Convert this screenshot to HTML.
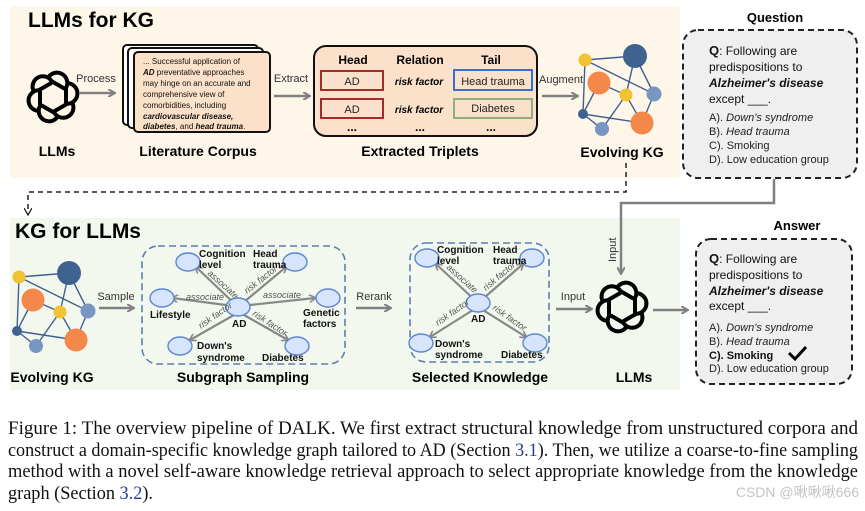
<!DOCTYPE html>
<html><head><meta charset="utf-8"><style>
body{margin:0;width:865px;height:511px;background:#fff;overflow:hidden;position:relative;font-family:"Liberation Sans",sans-serif}
svg{position:absolute;left:0;top:0}
</style></head><body>
<svg width="865" height="511" viewBox="0 0 865 511" font-family="Liberation Sans, sans-serif">
<defs>
<marker id="ga" markerWidth="8" markerHeight="8" refX="6" refY="4" orient="auto" markerUnits="userSpaceOnUse"><path d="M0,0 L7,4 L0,8" fill="none" stroke="#808080" stroke-width="2"/></marker>
<marker id="sa" markerWidth="8" markerHeight="8" refX="6" refY="4" orient="auto" markerUnits="userSpaceOnUse"><path d="M0,0 L7,4 L0,8" fill="none" stroke="#888" stroke-width="1.6"/></marker>
<marker id="ka" markerWidth="8" markerHeight="8" refX="6" refY="4" orient="auto" markerUnits="userSpaceOnUse"><path d="M0,0 L7,4 L0,8" fill="none" stroke="#222" stroke-width="1.3"/></marker>
<g id="kg">
<g stroke="#41608f" stroke-width="1.4">
<line x1="19" y1="277" x2="69" y2="273"/><line x1="19" y1="277" x2="88" y2="311"/><line x1="19" y1="277" x2="17" y2="331"/>
<line x1="69" y1="273" x2="60" y2="312"/><line x1="69" y1="273" x2="88" y2="311"/><line x1="33" y1="300" x2="60" y2="312"/>
<line x1="60" y1="312" x2="36" y2="346"/><line x1="17" y1="331" x2="76" y2="340"/><line x1="88" y1="311" x2="76" y2="340"/>
<line x1="17" y1="331" x2="36" y2="346"/><line x1="33" y1="300" x2="17" y2="331"/><line x1="60" y1="312" x2="76" y2="340"/>
</g>
<circle cx="69" cy="273" r="12" fill="#3f6390"/><circle cx="33" cy="300" r="11.5" fill="#f4874a"/>
<circle cx="76" cy="340" r="11.5" fill="#f4874a"/><circle cx="19" cy="277" r="6.5" fill="#f1c232"/>
<circle cx="60" cy="312" r="6.5" fill="#f1c232"/><circle cx="88" cy="311" r="7.5" fill="#7896c2"/>
<circle cx="17" cy="331" r="5" fill="#3f6390"/><circle cx="36" cy="346" r="7" fill="#7896c2"/>
</g>
<g id="oai" fill="none" stroke="#000" stroke-width="4">
<g id="lp"><path d="M-5,-19 A10,10 0 0 1 13,-9 L13,6"/></g>
<use href="#lp" transform="rotate(60)"/><use href="#lp" transform="rotate(120)"/><use href="#lp" transform="rotate(180)"/><use href="#lp" transform="rotate(240)"/><use href="#lp" transform="rotate(300)"/>
</g>
</defs>
<rect x="10" y="6" width="670" height="172" fill="#fdf6e9"/>
<rect x="10" y="218" width="670" height="172" fill="#f3f8ef"/>
<text x="28" y="27" font-size="21" font-weight="bold">LLMs for KG</text>
<text x="15" y="238" font-size="21" font-weight="bold">KG for LLMs</text>
<use href="#oai" transform="translate(53,97)"/>
<text x="57" y="156" font-size="14" font-weight="bold" text-anchor="middle">LLMs</text>
<text x="96" y="82" font-size="11" fill="#333" text-anchor="middle">Process</text>
<line x1="79" y1="93" x2="114" y2="93" stroke="#808080" stroke-width="2.5" marker-end="url(#ga)"/>
<rect x="123" y="45" width="135" height="80" rx="4" fill="#fff" stroke="#111" stroke-width="2"/>
<rect x="128" y="48" width="135" height="80" rx="4" fill="#fff" stroke="#111" stroke-width="2"/>
<rect x="134" y="52" width="136" height="80" rx="4" fill="#fbe1c9" stroke="#111" stroke-width="2"/>
<g font-size="8" fill="#111">
<text x="143" y="64">... Successful application of</text>
<text x="143" y="75"><tspan font-weight="bold" font-style="italic">AD</tspan> preventative approaches</text>
<text x="143" y="86">may hinge on an accurate and</text>
<text x="143" y="97">comprehensive view of</text>
<text x="143" y="108">comorbidities, including</text>
<text x="143" y="119" font-weight="bold" font-style="italic">cardiovascular disease,</text>
<text x="143" y="129"><tspan font-weight="bold" font-style="italic">diabetes</tspan>, and <tspan font-weight="bold" font-style="italic">head trauma</tspan>.</text>
</g>
<text x="198" y="156" font-size="14" font-weight="bold" text-anchor="middle">Literature Corpus</text>
<text x="291" y="82" font-size="11" fill="#333" text-anchor="middle">Extract</text>
<line x1="274" y1="96" x2="309" y2="96" stroke="#808080" stroke-width="2.5" marker-end="url(#ga)"/>
<rect x="314" y="46" width="223" height="90" rx="12" fill="#fbe1c9" stroke="#111" stroke-width="2"/>
<g font-size="12" font-weight="bold" text-anchor="middle"><text x="353" y="64">Head</text><text x="420" y="64">Relation</text><text x="491" y="64">Tail</text></g>
<rect x="321" y="71" width="62" height="19" fill="#f9e1cb" stroke="#a52a2a" stroke-width="2"/>
<rect x="321" y="99" width="62" height="19" fill="#f9e1cb" stroke="#a52a2a" stroke-width="2"/>
<rect x="454" y="70" width="78" height="20" fill="#f9e1cb" stroke="#3a6fd0" stroke-width="2"/>
<rect x="454" y="99" width="78" height="19" fill="#f9e1cb" stroke="#8fb07c" stroke-width="2"/>
<g font-size="11" text-anchor="middle" fill="#222"><text x="352" y="85">AD</text><text x="352" y="113">AD</text><text x="493" y="85">Head trauma</text><text x="493" y="112">Diabetes</text></g>
<g font-size="10" font-weight="bold" font-style="italic" text-anchor="middle"><text x="419" y="85">risk factor</text><text x="419" y="113">risk factor</text></g>
<g font-size="12" font-weight="bold" text-anchor="middle"><text x="352" y="131">...</text><text x="420" y="131">...</text><text x="491" y="131">...</text></g>
<text x="420" y="156" font-size="14" font-weight="bold" text-anchor="middle">Extracted Triplets</text>
<text x="561" y="83" font-size="11" fill="#333" text-anchor="middle">Augment</text>
<line x1="542" y1="96" x2="577" y2="96" stroke="#808080" stroke-width="2.5" marker-end="url(#ga)"/>
<use href="#kg" transform="translate(566,-217)"/>
<text x="622" y="157" font-size="14" font-weight="bold" text-anchor="middle">Evolving KG</text>
<path d="M626,163 V192 H28 V214" fill="none" stroke="#222" stroke-width="1.5" stroke-dasharray="5,4" marker-end="url(#ka)"/>
<text x="775" y="22" font-size="13" font-weight="bold" text-anchor="middle">Question</text>
<rect x="683" y="30" width="174" height="148" rx="15" fill="#efefef" stroke="#222" stroke-width="2" stroke-dasharray="6,4"/>
<g font-size="12" fill="#111">
<text x="709" y="55"><tspan font-weight="bold" font-size="13">Q</tspan>: Following are</text>
<text x="709" y="71">predispositions to</text>
<text x="709" y="87" font-weight="bold" font-style="italic">Alzheimer's disease</text>
<text x="709" y="103">except ___.</text>
</g>
<g font-size="11" fill="#222">
<text x="709" y="121">A). <tspan font-style="italic">Down's syndrome</tspan></text>
<text x="709" y="135">B). <tspan font-style="italic">Head trauma</tspan></text>
<text x="709" y="149">C). Smoking</text>
<text x="709" y="163">D). Low education group</text>
</g>
<path d="M774,179 V203 H621 V273" fill="none" stroke="#808080" stroke-width="2.5" marker-end="url(#ga)"/>
<text transform="translate(616,262) rotate(-90)" font-size="11" fill="#333">Input</text>
<use href="#kg"/>
<text x="52" y="382" font-size="14" font-weight="bold" text-anchor="middle">Evolving KG</text>
<text x="116" y="300" font-size="11" fill="#333" text-anchor="middle">Sample</text>
<line x1="99" y1="308" x2="133" y2="308" stroke="#808080" stroke-width="2.5" marker-end="url(#ga)"/>
<rect x="142" y="246" width="203" height="118" rx="16" fill="none" stroke="#5b7fb0" stroke-width="1.6" stroke-dasharray="7,4"/>
<g stroke="#888" stroke-width="2.2" marker-end="url(#sa)">
<line x1="238" y1="307" x2="196" y2="267"/><line x1="238" y1="307" x2="286" y2="267"/>
<line x1="226" y1="305" x2="172" y2="298"/><line x1="250" y1="305" x2="315" y2="298"/>
<line x1="234" y1="315" x2="190" y2="340"/><line x1="244" y1="315" x2="288" y2="340"/>
</g>
<g fill="#d6e5fb" stroke="#5b87d2" stroke-width="1.4">
<ellipse cx="238" cy="307" rx="12" ry="9"/><ellipse cx="188" cy="262" rx="12" ry="9"/><ellipse cx="295" cy="262" rx="12" ry="9"/>
<ellipse cx="162" cy="298" rx="12" ry="9"/><ellipse cx="328" cy="298" rx="12" ry="9"/><ellipse cx="180" cy="346" rx="12" ry="9"/><ellipse cx="297" cy="346" rx="12" ry="9"/>
</g>
<g font-size="9" font-style="italic" fill="#555">
<text transform="translate(207,274) rotate(42)">associate</text>
<text transform="translate(247,294) rotate(-38)">risk factor</text>
<text x="186" y="300">associate</text>
<text x="263" y="298">associate</text>
<text transform="translate(201,329) rotate(-35)">risk factor</text>
<text transform="translate(252,315) rotate(33)">risk factor</text>
</g>
<g font-size="10" font-weight="bold" fill="#111">
<text x="199" y="257">Cognition</text><text x="199" y="268">level</text>
<text x="253" y="257">Head</text><text x="253" y="268">trauma</text>
<text x="150" y="318">Lifestyle</text>
<text x="232" y="327">AD</text>
<text x="303" y="316">Genetic</text><text x="303" y="327">factors</text>
<text x="197" y="349">Down's</text><text x="197" y="361">syndrome</text>
<text x="262" y="361">Diabetes</text>
</g>
<text x="243" y="382" font-size="14" font-weight="bold" text-anchor="middle">Subgraph Sampling</text>
<text x="374" y="300" font-size="11" fill="#333" text-anchor="middle">Rerank</text>
<line x1="356" y1="308" x2="390" y2="308" stroke="#808080" stroke-width="2.5" marker-end="url(#ga)"/>
<rect x="410" y="243" width="139" height="119" rx="16" fill="none" stroke="#5b7fb0" stroke-width="1.6" stroke-dasharray="7,4"/>
<g stroke="#888" stroke-width="2.2" marker-end="url(#sa)">
<line x1="478" y1="303" x2="436" y2="264"/><line x1="478" y1="303" x2="523" y2="264"/>
<line x1="473" y1="310" x2="430" y2="337"/><line x1="483" y1="310" x2="526" y2="337"/>
</g>
<g fill="#d6e5fb" stroke="#5b87d2" stroke-width="1.4">
<ellipse cx="478" cy="303" rx="12" ry="9"/><ellipse cx="427" cy="258" rx="12" ry="9"/><ellipse cx="532" cy="258" rx="12" ry="9"/>
<ellipse cx="421" cy="343" rx="12" ry="9"/><ellipse cx="535" cy="343" rx="12" ry="9"/>
</g>
<g font-size="9" font-style="italic" fill="#555">
<text transform="translate(446,268) rotate(42)">associate</text>
<text transform="translate(486,291) rotate(-40)">risk factor</text>
<text transform="translate(438,326) rotate(-35)">risk factor</text>
<text transform="translate(492,309) rotate(35)">risk factor</text>
</g>
<g font-size="10" font-weight="bold" fill="#111">
<text x="437" y="253">Cognition</text><text x="437" y="264">level</text>
<text x="493" y="253">Head</text><text x="493" y="264">trauma</text>
<text x="471" y="322">AD</text>
<text x="435" y="347">Down's</text><text x="435" y="358">syndrome</text>
<text x="501" y="358">Diabetes</text>
</g>
<text x="480" y="382" font-size="14" font-weight="bold" text-anchor="middle">Selected Knowledge</text>
<text x="573" y="300" font-size="11" fill="#333" text-anchor="middle">Input</text>
<line x1="556" y1="309" x2="591" y2="309" stroke="#808080" stroke-width="2.5" marker-end="url(#ga)"/>
<use href="#oai" transform="translate(622,307)"/>
<text x="634" y="382" font-size="14" font-weight="bold" text-anchor="middle">LLMs</text>
<line x1="653" y1="310" x2="687" y2="310" stroke="#808080" stroke-width="2.5" marker-end="url(#ga)"/>
<text x="797" y="230" font-size="13" font-weight="bold" text-anchor="middle">Answer</text>
<rect x="696" y="239" width="156" height="145" rx="15" fill="#efefef" stroke="#222" stroke-width="2" stroke-dasharray="6,4"/>
<g font-size="12" fill="#111">
<text x="709" y="263"><tspan font-weight="bold" font-size="13">Q</tspan>: Following are</text>
<text x="709" y="279">predispositions to</text>
<text x="709" y="295" font-weight="bold" font-style="italic">Alzheimer's disease</text>
<text x="709" y="310">except ___.</text>
</g>
<g font-size="11" fill="#222">
<text x="709" y="331">A). <tspan font-style="italic">Down's syndrome</tspan></text>
<text x="709" y="345">B). <tspan font-style="italic">Head trauma</tspan></text>
<text x="709" y="359" font-weight="bold" fill="#111">C). Smoking</text>
<text x="709" y="372">D). Low education group</text>
</g>
<path d="M789,353 L795,359 L806,347" fill="none" stroke="#000" stroke-width="3"/>
<!-- caption -->
<g font-family="Liberation Serif, serif" font-size="19" fill="#111">
<text x="8" y="434" textLength="850" lengthAdjust="spacingAndGlyphs">Figure 1: The overview pipeline of DALK. We first extract structural knowledge from unstructured corpora and</text>
<text x="8" y="456" textLength="850" lengthAdjust="spacingAndGlyphs">construct a domain-specific knowledge graph tailored to AD (Section <tspan fill="#2a3a9a">3.1</tspan>). Then, we utilize a coarse-to-fine sampling</text>
<text x="8" y="477" textLength="850" lengthAdjust="spacingAndGlyphs">method with a novel self-aware knowledge retrieval approach to select appropriate knowledge from the knowledge</text>
<text x="8" y="499" textLength="145" lengthAdjust="spacingAndGlyphs">graph (Section <tspan fill="#2a3a9a">3.2</tspan>).</text>
</g>
<text x="859" y="497" text-anchor="end" font-family="Liberation Sans, Noto Sans CJK SC, sans-serif" font-size="14" fill="#c4c4c4">CSDN @啾啾啾666</text>
</svg>
</body></html>
